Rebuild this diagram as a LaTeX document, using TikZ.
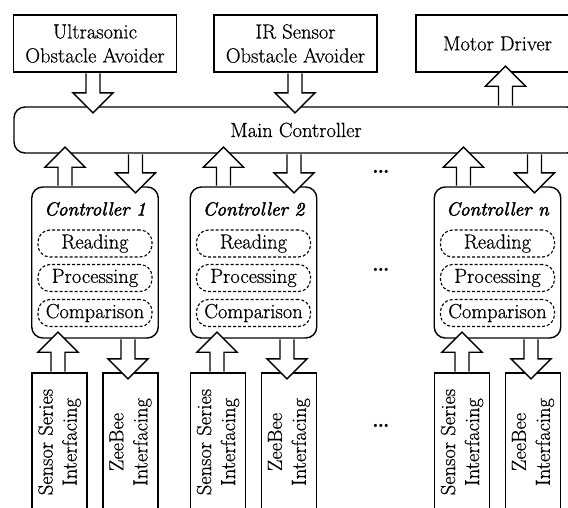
\documentclass[tikz,border=0pt]{standalone}
\usepackage{fontspec}
\setmainfont{Latin Modern Roman}[UprightFeatures={FakeBold=0.6}]
\newfontfamily\titlefont{lmroman10-italic.otf}[FakeBold=2.2]
\usetikzlibrary{calc}

% Block arrow: #1 = +1 upward / -1 downward, #2 = x position (pt),
% #3 = anchor it leaves, #4 = anchor it points into
\newcommand\flowarrow[4]{%
  \draw[blockarrow] let \p1=(#3), \p2=(#4) in
    ({#2pt-7pt},{\y1+(#1)*0.7pt}) --
    ({#2pt-7pt},{\y2+(#1)*6.5pt-(#1)*20pt}) --
    ({#2pt-20pt},{\y2+(#1)*6.5pt-(#1)*20pt}) --
    ({#2pt},{\y2+(#1)*6.5pt}) --
    ({#2pt+20pt},{\y2+(#1)*6.5pt-(#1)*20pt}) --
    ({#2pt+7pt},{\y2+(#1)*6.5pt-(#1)*20pt}) --
    ({#2pt+7pt},{\y1+(#1)*0.7pt});
}

\begin{document}
\begin{tikzpicture}[x=1pt,y=-1pt,
  font=\rmfamily\fontsize{20.5}{24}\selectfont,
  line width=1.4pt,
  box/.style={draw, minimum width=163pt, minimum height=57pt, align=center, inner sep=0pt},
  hub/.style={draw, rounded corners=11pt, minimum width=564pt, minimum height=46pt},
  unit/.style={draw, rounded corners=11pt, minimum width=126.5pt, minimum height=151pt},
  unittitle/.style={font=\titlefont\fontsize{19}{24}\selectfont},
  stage/.style={draw, line width=1.1pt, dash pattern=on 3pt off 2pt, rounded corners=12pt,
    minimum width=114pt, minimum height=27pt, inner sep=0pt},
  iface/.style={draw, minimum width=55pt, minimum height=138pt},
  ifacetext/.style={rotate=90, align=center, inner sep=0pt},
  gap/.style={anchor=base, font=\rmfamily\bfseries\fontsize{22}{24}\selectfont},
  blockarrow/.style={draw, fill=white, line width=1.4pt, line join=miter},
]
\useasboundingbox (0,0) rectangle (568,507);
\clip (0,0) rectangle (568,507);

% top row
\node[box] (us) at (95,43.5) {Ultrasonic\\Obstacle Avoider};
\node[box] (ir) at (295.5,43.5) {IR Sensor\\Obstacle Avoider};
\node[box] (md) at (497.5,43.5) {Motor Driver};

% main controller bar
\node[hub] (main) at (296,130) {Main Controller};

\flowarrow{-1}{93}{us.south}{main.north}
\flowarrow{-1}{295}{ir.south}{main.north}
\flowarrow{1}{505.5}{main.north}{md.south}

% controllers with their interfaces
\foreach \k/\cx/\up/\dn/\sup/\zdn in {
    1/95/65/135.5/58/128,
    2/253.5/223.5/294/217/287,
    n/497.5/463.5/534.5/462/531} {
  \node[unit] (c\k) at (\cx,262.5) {};
  \node[unittitle] at (\cx,209) {Controller \k};
  \node[stage] (rd\k) at (\cx,243.5) {Reading};
  \node[stage] (pr\k) at (\cx,278) {Processing};
  \node[stage] (cp\k) at (\cx,313) {Comparison};
  \node[iface] (s\k) at (\cx-35.5,442) {};
  \node[ifacetext] at (s\k.center) {Sensor Series\\Interfacing};
  \node[iface] (z\k) at (\cx+35.5,442) {};
  \node[ifacetext] at (z\k.center) {ZeeBee\\Interfacing};
  \flowarrow{1}{\up}{c\k.north}{main.south}
  \flowarrow{-1}{\dn}{main.south}{c\k.north}
  \flowarrow{1}{\sup}{s\k.north}{c\k.south}
  \flowarrow{-1}{\zdn}{c\k.south}{z\k.north}
}

% ellipses between controller 2 and controller n
\node[gap] (gapa) at (381,173) {\ldots};
\node[gap] (gapb) at (381,271) {\ldots};
\node[gap] (gapc) at (381,427) {\ldots};
\end{tikzpicture}
\end{document}
